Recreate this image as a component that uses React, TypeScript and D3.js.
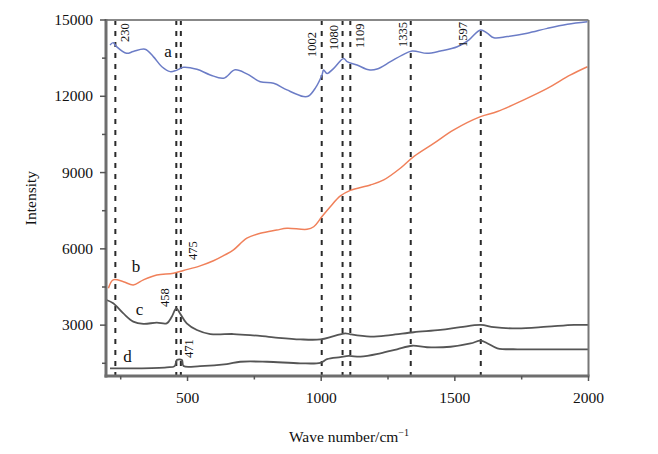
import React from "react";
import * as d3 from "d3";

const xTicks = [500, 1000, 1500, 2000];
const xMinor = [250, 750, 1250, 1750];
const yTicks = [3000, 6000, 9000, 12000, 15000];
const yMinor = [1500, 4500, 7500, 10500, 13500];

const aW = [210, 222, 235, 272, 297, 341, 372, 404, 435, 458, 485, 535, 585, 635, 678, 722, 772, 822, 872, 934, 953, 978, 1003, 1009, 1022, 1047, 1084, 1097, 1134, 1178, 1209, 1259, 1303, 1340, 1396, 1446, 1509, 1552, 1596, 1621, 1646, 1696, 1771, 1846, 1921, 1996];
const aV = [14020, 14110, 13950, 13690, 13760, 13850, 13560, 13160, 12970, 13020, 13140, 13060, 12840, 12710, 13040, 12880, 12570, 12510, 12250, 11990, 12010, 12320, 12840, 13030, 12900, 13100, 13490, 13360, 13230, 13040, 13070, 13360, 13620, 13780, 13690, 13780, 13950, 14210, 14610, 14480, 14300, 14350, 14480, 14670, 14830, 14930];

const bW = [204, 222, 260, 297, 335, 385, 447, 485, 547, 597, 640, 672, 722, 772, 834, 872, 947, 972, 1003, 1034, 1072, 1109, 1184, 1234, 1296, 1346, 1421, 1496, 1596, 1659, 1758, 1846, 1933, 1996];
const bV = [4450, 4780, 4710, 4580, 4780, 4970, 5040, 5150, 5330, 5530, 5760, 5960, 6420, 6610, 6740, 6810, 6770, 6870, 7270, 7660, 8080, 8300, 8510, 8710, 9170, 9630, 10150, 10680, 11200, 11400, 11860, 12310, 12840, 13160];

const cW = [197, 222, 260, 297, 335, 385, 422, 441, 458, 472, 497, 535, 585, 672, 734, 822, 922, 997, 1047, 1090, 1109, 1184, 1259, 1346, 1446, 1521, 1597, 1646, 1734, 1846, 1946, 2000];
const cV = [3990, 3860, 3460, 3140, 3050, 3100, 3070, 3330, 3660, 3460, 3070, 2810, 2650, 2650, 2610, 2520, 2440, 2440, 2570, 2680, 2640, 2550, 2610, 2720, 2810, 2920, 3010, 2920, 2870, 2940, 3010, 3010];

const dW = [210, 297, 422, 452, 460, 479, 485, 547, 647, 697, 797, 922, 997, 1022, 1072, 1103, 1147, 1221, 1284, 1340, 1396, 1484, 1559, 1597, 1621, 1659, 1734, 1846, 2000];
const dV = [1300, 1300, 1340, 1390, 1630, 1630, 1390, 1390, 1470, 1560, 1560, 1500, 1520, 1660, 1740, 1790, 1760, 1890, 2050, 2190, 2130, 2150, 2280, 2390, 2290, 2090, 2050, 2050, 2050];

const peakLines = [230, 458, 475, 1002, 1080, 1109, 1335, 1597];
const peakLabels = ["230", "458", "475", "471", "1002", "1080", "1109", "1335", "1597"];
const peakLabelW = [230, 458, 475, 471, 1002, 1080, 1109, 1335, 1597];
const peakLabelDx = [14, -7, 16, 13, -6, -5, 14, -4, -14];
const peakLabelBottom = [42, 307, 260, 358, 57, 50, 48, 47, 47];

const seriesNames = ["a", "b", "c", "d"];
const seriesLabelW = [427, 307, 320, 275];
const seriesLabelV = [13545, 5090, 3400, 1550];
const seriesColors = ["#6b7cc6", "#f0805a", "#555555", "#555555"];

export default function App() {
  const W = 658, H = 454;
  const x = d3.scaleLinear().domain([195, 2000]).range([106, 588.5]);
  const y = d3.scaleLinear().domain([1000, 15000]).range([376, 20]);
  const line = d3
    .line<[number, number]>()
    .x((d) => x(d[0]))
    .y((d) => y(d[1]))
    .curve(d3.curveCatmullRom.alpha(0.5));
  const series = [
    aW.map((w, i) => [w, aV[i]] as [number, number]),
    bW.map((w, i) => [w, bV[i]] as [number, number]),
    cW.map((w, i) => [w, cV[i]] as [number, number]),
    dW.map((w, i) => [w, dV[i]] as [number, number]),
  ];
  const font = "'Liberation Serif', 'Times New Roman', serif";
  const [x0, x1] = x.range();
  const [yb, yt] = y.range();
  return (
    <svg
      width={W}
      height={H}
      style={{ position: "absolute", left: 0, top: 0, background: "#fff" }}
      fontFamily={font}
    >
      {peakLines.map((p) => (
        <line
          key={"pl" + p}
          x1={x(p)}
          x2={x(p)}
          y1={yt}
          y2={yb}
          stroke="#2a2a2a"
          strokeWidth={2}
          strokeDasharray="5,6"
        />
      ))}
      {series.map((s, i) => (
        <path
          key={"s" + i}
          d={line(s) || ""}
          fill="none"
          stroke={seriesColors[i]}
          strokeWidth={i < 2 ? 1.5 : 1.8}
        />
      ))}
      <line x1={x0} x2={x1} y1={yt} y2={yt} stroke="#888" strokeWidth={2} />
      <line x1={x1} x2={x1} y1={yt} y2={yb} stroke="#777" strokeWidth={2} />
      <line x1={x0} x2={x0} y1={yt - 1} y2={yb + 1.5} stroke="#6e6e6e" strokeWidth={3} />
      <line x1={x0 - 1.5} x2={x1 + 1} y1={yb} y2={yb} stroke="#6e6e6e" strokeWidth={3} />
      {yTicks.map((t) => (
        <g key={"yt" + t}>
          <line x1={x0 - 6} x2={x0} y1={y(t)} y2={y(t)} stroke="#555" strokeWidth={1.5} />
          <text x={x0 - 13} y={y(t) + 5} textAnchor="end" fontSize={15.5} fill="#111">
            {t}
          </text>
        </g>
      ))}
      {yMinor.map((t) => (
        <line key={"ym" + t} x1={x0 - 4} x2={x0} y1={y(t)} y2={y(t)} stroke="#555" strokeWidth={1.5} />
      ))}
      {xTicks.map((t) => (
        <g key={"xt" + t}>
          <line x1={x(t)} x2={x(t)} y1={yb} y2={yb + 5} stroke="#555" strokeWidth={1.5} />
          <text x={x(t)} y={yb + 27} textAnchor="middle" fontSize={15.5} fill="#111">
            {t}
          </text>
        </g>
      ))}
      {xMinor.map((t) => (
        <line key={"xm" + t} x1={x(t)} x2={x(t)} y1={yb} y2={yb + 3.5} stroke="#555" strokeWidth={1.5} />
      ))}
      {peakLabels.map((l, i) => (
        <text
          key={"lab" + i}
          transform={`translate(${x(peakLabelW[i]) + peakLabelDx[i]},${peakLabelBottom[i]}) rotate(-90)`}
          fontSize={12.5}
          fill="#111"
        >
          {l}
        </text>
      ))}
      {seriesNames.map((n, i) => (
        <text
          key={"sn" + n}
          x={x(seriesLabelW[i])}
          y={y(seriesLabelV[i])}
          fontSize={17}
          textAnchor="middle"
          fill="#111"
        >
          {n}
        </text>
      ))}
      <text
        transform={`translate(36,${(yt + yb) / 2}) rotate(-90)`}
        textAnchor="middle"
        fontSize={15.5}
        fill="#111"
      >
        Intensity
      </text>
      <text x={349} y={442} textAnchor="middle" fontSize={15.5} fill="#111">
        Wave number/cm
        <tspan dy={-6} fontSize={10}>
          −1
        </tspan>
      </text>
    </svg>
  );
}
